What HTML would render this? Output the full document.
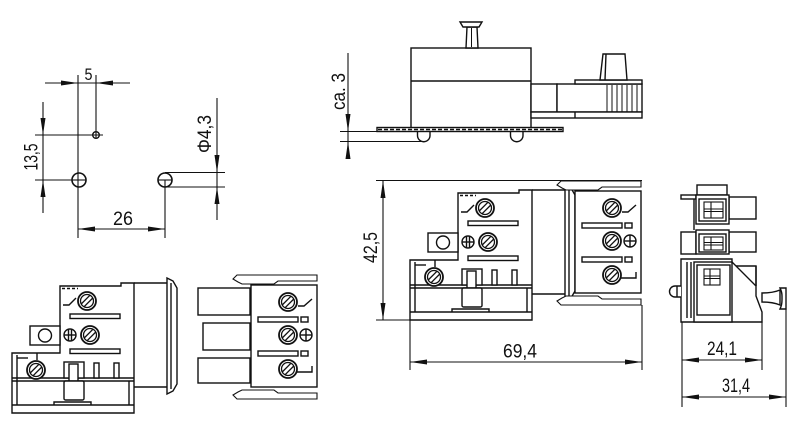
<!DOCTYPE html>
<html><head><meta charset="utf-8">
<style>
html,body{margin:0;padding:0;background:#fff;width:800px;height:434px;overflow:hidden}
svg{display:block}
text{font-family:"Liberation Sans",sans-serif;fill:#111;stroke:none}
</style></head><body>
<svg xmlns="http://www.w3.org/2000/svg" xmlns:xlink="http://www.w3.org/1999/xlink" width="800" height="434" viewBox="0 0 800 434">
<defs>
<g id="sc" stroke="#111" stroke-width="1.3" fill="none">
 <circle r="9" fill="#fff" stroke-width="1.8"/>
 <circle r="6.5"/>
 <line x1="-5.8" y1="3" x2="3" y2="-5.8"/>
 <line x1="-3" y1="5.8" x2="5.8" y2="-3"/>
</g>
<g id="leftc" stroke="#111" stroke-width="1.4" fill="#fff">
 <path d="M410,320 L410,260 L458,260 L458,193 L519,193 L519,190 L532,190 L532,320 Z"/>
 <line x1="410" y1="285" x2="532" y2="285"/>
 <line x1="410" y1="288" x2="532" y2="288"/>
 <line x1="410" y1="312" x2="532" y2="312"/>
 <line x1="415" y1="262" x2="415" y2="312"/>
 <line x1="527" y1="288" x2="527" y2="312"/>
 <line x1="415" y1="265" x2="426" y2="265"/>
 <line x1="435" y1="260" x2="435" y2="267"/>
 <polyline fill="none" points="452,312 452,309 489,309 489,312"/>
 <line x1="460" y1="195.5" x2="476" y2="195.5" stroke-dasharray="3 2"/>
 <rect x="462" y="269" width="20" height="16"/>
 <rect x="467" y="271" width="9" height="17"/>
 <rect x="462" y="288" width="20" height="19" rx="1.5"/>
 <rect x="492" y="270" width="5" height="15"/>
 <rect x="512" y="270" width="5" height="15"/>
 <rect x="468" y="221" width="50" height="4.5"/>
 <rect x="468" y="256" width="50" height="4.5"/>
 <rect x="428" y="233" width="30" height="19"/>
 <circle cx="443" cy="242.5" r="6.5"/>
 <circle cx="468" cy="242" r="6"/>
 <line x1="466.5" y1="236" x2="466.5" y2="248"/>
 <line x1="469.5" y1="236" x2="469.5" y2="248"/>
 <line x1="462" y1="242" x2="474" y2="242"/>
 <polyline fill="none" points="461,212 467,212 474,205"/>
 <use xlink:href="#sc" x="485" y="208"/>
 <use xlink:href="#sc" x="488" y="242"/>
 <use xlink:href="#sc" x="434" y="277"/>
</g>
<g id="conn" stroke="#111" stroke-width="1.4" fill="#fff">
 <line x1="532" y1="190" x2="566" y2="190"/>
 <line x1="532" y1="294" x2="566" y2="294"/>
 <path d="M565,185 L571,188 L575,195 L575,291 L571,298 L565,301 Z"/>
 <line x1="569" y1="190" x2="569" y2="296"/>
</g>
<g id="rightc" stroke="#111" stroke-width="1.4" fill="#fff">
 <path d="M557,185 L561,181 L641,181 L641,187 L602,187 L598,190 L566,190 L562,188 Z" stroke-width="1.1"/>
 <path d="M557,301 L561,305 L641,305 L641,299 L602,299 L598,296 L566,296 L562,298 Z" stroke-width="1.1"/>
 <rect x="575" y="191" width="66" height="102"/>
 <rect x="582" y="223" width="40" height="5"/>
 <rect x="582" y="257" width="40" height="5"/>
 <rect x="625" y="223" width="7" height="5"/>
 <rect x="625" y="257" width="7" height="5"/>
 <circle cx="630" cy="241" r="6"/>
 <line x1="630" y1="235" x2="630" y2="247"/>
 <line x1="624" y1="241" x2="636" y2="241"/>
 <polyline fill="none" points="622,212 628,212 636,205"/>
 <polyline fill="none" points="621,278 636,278 636,272"/>
 <use xlink:href="#sc" x="612" y="208"/>
 <use xlink:href="#sc" x="612" y="241"/>
 <use xlink:href="#sc" x="612" y="275"/>
</g>
</defs>

<!-- ============ Top-left hole pattern ============ -->
<g stroke="#111" stroke-width="1.1" fill="none">
 <line x1="78" y1="75" x2="78" y2="238"/>
 <line x1="96" y1="75" x2="96" y2="138"/>
 <line x1="45" y1="83" x2="130" y2="83"/>
 <line x1="35" y1="135" x2="103" y2="135"/>
 <line x1="35" y1="180" x2="72" y2="180"/>
 <line x1="43" y1="102" x2="43" y2="213"/>
 <line x1="165" y1="180" x2="165" y2="238"/>
 <line x1="78" y1="229" x2="165" y2="229"/>
 <line x1="165" y1="172.5" x2="225" y2="172.5"/>
 <line x1="165" y1="187" x2="225" y2="187"/>
 <line x1="217" y1="98" x2="217" y2="220"/>
 <circle cx="96" cy="135" r="3.3" stroke-width="1.4"/>
 <circle cx="79" cy="180" r="7" stroke-width="1.6"/>
 <circle cx="165" cy="180" r="7" stroke-width="1.6"/>
 <line x1="158" y1="180" x2="172" y2="180"/>
 <line x1="72" y1="180" x2="86" y2="180"/>
</g>
<g fill="#111" stroke="none">
 <polygon points="78,83 61,80.5 61,85.5"/>
 <polygon points="96,83 113,80.5 113,85.5"/>
 <polygon points="43,135 40.5,118 45.5,118"/>
 <polygon points="43,180 40.5,197 45.5,197"/>
 <polygon points="78,229 95,226.5 95,231.5"/>
 <polygon points="165,229 148,226.5 148,231.5"/>
 <polygon points="217,172.5 214.5,155 219.5,155"/>
 <polygon points="217,187 214.5,204 219.5,204"/>
</g>
<text x="88.5" y="80" font-size="17" text-anchor="middle" textLength="8" lengthAdjust="spacingAndGlyphs">5</text>
<text x="123" y="225" font-size="19" text-anchor="middle" textLength="20" lengthAdjust="spacingAndGlyphs">26</text>
<text transform="translate(37.5,157) rotate(-90)" font-size="19" text-anchor="middle" textLength="27" lengthAdjust="spacingAndGlyphs">13,5</text>
<text transform="translate(211,134) rotate(-90)" font-size="19" text-anchor="middle" textLength="38" lengthAdjust="spacingAndGlyphs">Φ4,3</text>

<!-- ============ Top-middle side view ============ -->
<g stroke="#111" stroke-width="1.4" fill="#fff">
 <rect x="411" y="48" width="120" height="80"/>
 <line x1="411" y1="81" x2="531" y2="81"/>
 <polygon points="466,48 467,27 477,27 478,48"/>
 <line x1="471.5" y1="28" x2="471.5" y2="47" stroke-width="1"/>
 <polygon points="460,22 482,22 479,27 463,27"/>
 <rect x="531" y="84" width="26" height="28"/>
 <rect x="557" y="84" width="85" height="28"/>
 <rect x="575" y="80" width="67" height="4"/>
 <rect x="531" y="112" width="111" height="6"/>
 <line x1="575" y1="112" x2="575" y2="118"/>
 <polygon points="600,80 603,54 625,54 627,80"/>
 <line x1="605" y1="80" x2="606" y2="54"/>
 <g stroke-width="1">
  <line x1="607" y1="85" x2="607" y2="112"/>
  <line x1="612" y1="85" x2="612" y2="112"/>
  <line x1="617" y1="85" x2="617" y2="112"/>
  <line x1="622" y1="85" x2="622" y2="112"/>
  <line x1="627" y1="85" x2="627" y2="112"/>
  <line x1="632" y1="85" x2="632" y2="112"/>
  <line x1="637" y1="85" x2="637" y2="112"/>
 </g>
 <path d="M417.5,131 L417.5,135.5 A6.25,6.25 0 0 0 430,135.5 L430,131" />
 <path d="M510.5,131 L510.5,135.5 A6.25,6.25 0 0 0 523,135.5 L523,131" />
 <rect x="377" y="127.5" width="186" height="4"/>
 <line x1="378" y1="129.5" x2="562" y2="129.5" stroke-dasharray="4 2" stroke-width="1.6"/>
</g>
<g stroke="#111" stroke-width="1.1" fill="none">
 <line x1="348" y1="53" x2="348" y2="158"/>
 <line x1="340" y1="131.5" x2="377" y2="131.5"/>
 <line x1="340" y1="141.5" x2="424" y2="141.5"/>
</g>
<g fill="#111">
 <polygon points="348,131.5 345.5,114 350.5,114"/>
 <polygon points="348,141.5 345.5,159 350.5,159"/>
</g>
<text transform="translate(345,91.5) rotate(-90)" font-size="19" text-anchor="middle" textLength="37" lengthAdjust="spacingAndGlyphs">ca. 3</text>

<!-- ============ Front view (middle right) ============ -->
<use xlink:href="#leftc"/>
<use xlink:href="#conn"/>
<use xlink:href="#rightc"/>
<g stroke="#111" stroke-width="1.1" fill="none">
 <line x1="376" y1="180.5" x2="642" y2="180.5"/>
 <line x1="376" y1="320" x2="410" y2="320"/>
 <line x1="383" y1="180.5" x2="383" y2="320"/>
 <line x1="410" y1="320" x2="410" y2="370"/>
 <line x1="642" y1="305" x2="642" y2="370"/>
 <line x1="410" y1="362" x2="642" y2="362"/>
</g>
<g fill="#111">
 <polygon points="383,180.5 380.5,198 385.5,198"/>
 <polygon points="383,320 380.5,303 385.5,303"/>
 <polygon points="410,362 427,359.5 427,364.5"/>
 <polygon points="642,362 625,359.5 625,364.5"/>
</g>
<text transform="translate(377,247.5) rotate(-90)" font-size="19" text-anchor="middle" textLength="31" lengthAdjust="spacingAndGlyphs">42,5</text>
<text x="520" y="357.5" font-size="19" text-anchor="middle" textLength="34" lengthAdjust="spacingAndGlyphs">69,4</text>

<!-- ============ Bottom-left view ============ -->
<use xlink:href="#leftc" transform="translate(-398,93)"/>
<use xlink:href="#conn" transform="translate(-398,93)"/>

<!-- ============ Bottom-right view ============ -->
<use xlink:href="#rightc" transform="translate(-324,94)"/>
<g stroke="#111" stroke-width="1.4" fill="#fff">
 <rect x="198" y="288" width="52" height="27"/>
 <rect x="203" y="323" width="47" height="27"/>
 <rect x="198" y="358" width="52" height="25"/>
</g>

<!-- ============ Right side view ============ -->
<g stroke="#111" stroke-width="1.4" fill="#fff">
 <rect x="697" y="185" width="30" height="10"/>
 <!-- row 1 -->
 <rect x="681" y="195" width="15" height="4"/>
 <line x1="694" y1="199" x2="694" y2="230"/>
 <rect x="729" y="197" width="27" height="22"/>
 <rect x="696" y="195" width="33" height="29"/>
 <rect x="699" y="199" width="27" height="22"/>
 <rect x="704" y="202" width="19" height="16" stroke-width="1.1"/>
 <line x1="711" y1="202" x2="711" y2="218" stroke-width="1.1"/>
 <line x1="704" y1="209" x2="723" y2="209" stroke-width="1"/>
 <line x1="704" y1="211.5" x2="723" y2="211.5" stroke-width="1"/>
 <!-- row 2 -->
 <rect x="681" y="232" width="15" height="22"/>
 <rect x="729" y="232" width="27" height="20"/>
 <rect x="696" y="230" width="33" height="24"/>
 <rect x="699" y="234" width="27" height="18"/>
 <rect x="704" y="237" width="19" height="13" stroke-width="1.1"/>
 <line x1="711" y1="237" x2="711" y2="250" stroke-width="1.1"/>
 <line x1="704" y1="242.5" x2="723" y2="242.5" stroke-width="1"/>
 <line x1="704" y1="245" x2="723" y2="245" stroke-width="1"/>
 <!-- row 3 -->
 <polyline fill="none" points="735,266 756,266 756,286"/>
 <path d="M681,259 L732,259 L732,262 L756,286 L756,296 L762,312 L762,322 L681,322 Z"/>
 <line x1="756" y1="266" x2="756" y2="286"/>
 <rect x="694" y="262" width="38" height="60"/>
 <rect x="697" y="265" width="33" height="50"/>
 <line x1="687" y1="262" x2="687" y2="318"/>
 <line x1="691" y1="262" x2="691" y2="318"/>
 <rect x="704" y="269" width="16" height="16" stroke-width="1.1"/>
 <line x1="710" y1="269" x2="710" y2="285" stroke-width="1.1"/>
 <line x1="704" y1="276" x2="720" y2="276" stroke-width="1"/>
 <line x1="704" y1="278.5" x2="720" y2="278.5" stroke-width="1"/>
 <!-- pin left -->
 <path d="M681,286 L675,286 A5.5,5.5 0 0 0 675,297 L681,297"/>
 <line x1="677" y1="286" x2="677" y2="297"/>
 <!-- knob right -->
 <path d="M762,293 Q773,293 780,290 L780,305 Q773,302 762,302 Z"/>
 <path d="M780,288 Q782,292 782,296 L782,300 Q782,305 780,309 L786,309 L786,288 Z"/>
</g>
<g stroke="#111" stroke-width="1.1" fill="none">
 <line x1="682" y1="322" x2="682" y2="407"/>
 <line x1="762" y1="322" x2="762" y2="370"/>
 <line x1="786" y1="309" x2="786" y2="407"/>
 <line x1="682" y1="360" x2="762" y2="360"/>
 <line x1="682" y1="397" x2="786" y2="397"/>
</g>
<g fill="#111">
 <polygon points="682,360 699,357.5 699,362.5"/>
 <polygon points="762,360 745,357.5 745,362.5"/>
 <polygon points="682,397 699,394.5 699,399.5"/>
 <polygon points="786,397 769,394.5 769,399.5"/>
</g>
<text x="722" y="355" font-size="19" text-anchor="middle" textLength="30" lengthAdjust="spacingAndGlyphs">24,1</text>
<text x="736" y="392" font-size="19" text-anchor="middle" textLength="28" lengthAdjust="spacingAndGlyphs">31,4</text>
</svg>
</body></html>
